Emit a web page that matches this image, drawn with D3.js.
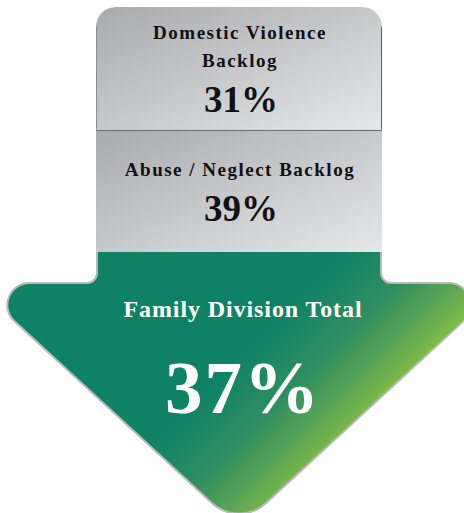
<!DOCTYPE html>
<html>
<head>
<meta charset="utf-8">
<script src="https://d3js.org/d3.v7.min.js"></script>
<style>
  body { margin: 0; background: #fff; }
  svg text { font-family: "Liberation Serif", "Times New Roman", serif; font-weight: bold; }
</style>
</head>
<body>
<script>
// data
var backlogLabels = [["Domestic Violence", "Backlog"], ["Abuse / Neglect Backlog"]];
var backlogValues = [31, 39];
var totalLabel = "Family Division Total";
var totalValue = 37;

var width = 464, height = 513;
var svg = d3.select("body").append("svg")
    .attr("width", width)
    .attr("height", height);

var defs = svg.append("defs");

// gray gradient for the backlog boxes
var gg = defs.append("linearGradient").attr("id", "grayGrad")
    .attr("x1", 0).attr("y1", 0).attr("x2", 1).attr("y2", 1);
gg.append("stop").attr("offset", 0).attr("stop-color", "#a9aaad");
gg.append("stop").attr("offset", 1).attr("stop-color", "#e6e7e9");

// green gradient for the arrow head
var gr = defs.append("linearGradient").attr("id", "greenGrad")
    .attr("gradientUnits", "userSpaceOnUse")
    .attr("x1", 280).attr("y1", 280).attr("x2", 400).attr("y2", 400);
gr.append("stop").attr("offset", 0.15).attr("stop-color", "#0f8266");
gr.append("stop").attr("offset", 0.5).attr("stop-color", "#2e8e60");
gr.append("stop").attr("offset", 0.77).attr("stop-color", "#60a653");
gr.append("stop").attr("offset", 1).attr("stop-color", "#8dc63f");

var stemL = 97, stemR = 381, cx = (stemL + stemR) / 2;
var boxTop = 7, boxBottom = 252;

var y = d3.scaleBand()
    .domain(d3.range(backlogValues.length))
    .range([boxTop, boxBottom]);

// arrow (stem + head)
var shoulder = 283, half = 266, tipY = 528;
var p = d3.path();
p.moveTo(stemL, boxBottom - 2);
p.lineTo(stemR, boxBottom - 2);
p.arcTo(stemR, shoulder, cx + half, shoulder, 10);
p.arcTo(cx + half, shoulder, cx, tipY, 22);
p.arcTo(cx, tipY, cx - half, shoulder, 40);
p.arcTo(cx - half, shoulder, stemL, shoulder, 22);
p.arcTo(stemL, shoulder, stemL, boxBottom, 10);
p.closePath();

svg.append("path")
    .attr("d", p.toString())
    .attr("fill", "url(#greenGrad)")
    .attr("stroke", "#b8b9bb")
    .attr("stroke-width", 2);

// gray boxes
var boxes = svg.selectAll("g.box")
    .data(backlogValues)
    .join("g")
    .attr("class", "box");

boxes.append("path")
    .attr("d", function (d, i) {
      var t = y(i), b = y(i) + y.bandwidth(), r = i === 0 ? 20 : 0;
      var q = d3.path();
      q.moveTo(stemL - 1, b);
      q.lineTo(stemL - 1, t + r);
      if (r) q.arcTo(stemL - 1, t, stemL - 1 + r, t, r);
      q.lineTo(stemR + 1 - r, t);
      if (r) q.arcTo(stemR + 1, t, stemR + 1, t + r, r);
      q.lineTo(stemR + 1, b);
      q.closePath();
      return q.toString();
    })
    .attr("fill", "url(#grayGrad)");

// edges of the top box and divider
svg.append("line")
    .attr("x1", stemL - 0.5).attr("x2", stemL - 0.5)
    .attr("y1", boxTop + 20).attr("y2", y(1))
    .attr("stroke", "#8c8d90").attr("stroke-width", 1);
svg.append("line")
    .attr("x1", stemR + 0.5).attr("x2", stemR + 0.5)
    .attr("y1", boxTop + 20).attr("y2", y(1))
    .attr("stroke", "#5f6063").attr("stroke-width", 1);
svg.append("line")
    .attr("x1", stemL - 1).attr("x2", stemR + 1)
    .attr("y1", Math.round(y(1)) + 0.5).attr("y2", Math.round(y(1)) + 0.5)
    .attr("stroke", "#6d6e71").attr("stroke-width", 1.2);

// box texts
var labelSize = 19, capH = 12.6, lineH = 28, valGap = 45;
boxes.each(function (d, i) {
  var g = d3.select(this);
  var lines = backlogLabels[i];
  var center = y(i) + y.bandwidth() / 2;
  var blockH = capH + lineH * (lines.length - 1) + valGap;
  var base = center - blockH / 2 + 1 + capH;
  lines.forEach(function (l, k) {
    g.append("text")
      .attr("x", cx + 1)
      .attr("y", base + k * lineH)
      .attr("text-anchor", "middle")
      .style("font-size", labelSize + "px")
      .style("letter-spacing", "1.5px")
      .attr("fill", "#111")
      .text(l);
  });
  g.append("text")
    .attr("x", cx + 2)
    .attr("y", base + lineH * (lines.length - 1) + valGap)
    .attr("text-anchor", "middle")
    .style("font-size", "37px")
    .attr("fill", "#111")
    .text(d + "%");
});

// total
svg.append("text")
    .attr("x", cx + 4)
    .attr("y", 317)
    .attr("text-anchor", "middle")
    .style("font-size", "24px")
    .style("letter-spacing", "0.9px")
    .attr("fill", "#fff")
    .text(totalLabel);

svg.append("text")
    .attr("x", cx + 4)
    .attr("y", 413)
    .attr("text-anchor", "middle")
    .style("font-size", "75px")
    .style("letter-spacing", "2px")
    .attr("fill", "#fff")
    .text(totalValue + "%");
</script>
</body>
</html>
